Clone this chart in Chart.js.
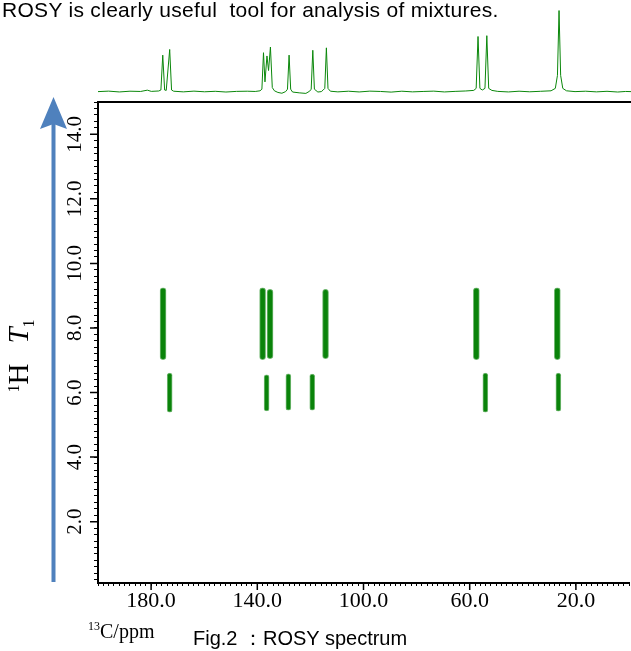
<!DOCTYPE html>
<html>
<head>
<meta charset="utf-8">
<script src="https://cdn.jsdelivr.net/npm/chart.js@4.4.1/dist/chart.umd.min.js"></script>
<style>
body { margin: 0; background: #fff; }
#wrap { position: relative; width: 631px; height: 651px; overflow: hidden; }
canvas { position: absolute; }
.txt { position: absolute; white-space: nowrap; color: #000; }
#note { left: 2px; top: 0; font: 21px/20px 'Liberation Sans', Arial, sans-serif; letter-spacing: 0.3px; }
#cap { left: 193px; top: 628px; font: 20px/20px 'Liberation Sans', Arial, sans-serif; }
#xtitle { left: 88px; top: 621px; font: 20px/20px 'Liberation Serif', 'Times New Roman', serif; }
#xtitle .sup { font-size: 12px; position: relative; top: -8px; }
#ytitle { left: 20px; top: 356px; transform: translate(-50%, -50%) rotate(-90deg);
          font: 29px/29px 'Liberation Serif', 'Times New Roman', serif; }
#ytitle .sup { font-size: 16px; position: relative; top: -9px; }
#ytitle .sub { font-size: 16px; position: relative; top: 6px; }
#ytitle .gap { display: inline-block; width: 20px; }
</style>
</head>
<body>
<div id="wrap">
  <canvas id="rosy" width="631" height="651" style="left:0;top:0"></canvas>
  <canvas id="spec" width="533" height="104" style="left:98px;top:0"></canvas>
  <svg width="631" height="651" style="position:absolute;left:0;top:0">
    <line x1="53.5" y1="582" x2="53.5" y2="122" stroke="#4f81bd" stroke-width="4"/>
    <polygon points="53.5,97 40,129 53.5,124 67,129" fill="#4f81bd"/>
  </svg>
  <div class="txt" id="note">ROSY is clearly useful&nbsp; tool for analysis of mixtures.</div>
  <div class="txt" id="ytitle"><span class="sup">1</span>H<span class="gap"></span><i>T</i><span class="sub">1</span></div>
  <div class="txt" id="xtitle"><span class="sup">13</span>C/ppm</div>
  <div class="txt" id="cap">Fig.2 ：ROSY spectrum</div>
</div>
<script>
// spots of the 2D map: 13C shift (ppm) and T1 range of each contour
const upperPpm  = [175.5, 138.0, 135.2, 114.3, 57.5, 27.0];
const upperLow  = [7.02, 7.02, 7.05, 7.05, 7.02, 7.02];
const upperHigh = [9.24, 9.24, 9.20, 9.20, 9.24, 9.24];
const lowerPpm  = [173.0, 136.5, 128.3, 119.3, 54.1, 26.6];
const lowerLow  = [5.39, 5.43, 5.45, 5.45, 5.39, 5.42];
const lowerHigh = [6.60, 6.55, 6.58, 6.57, 6.60, 6.60];

// 1D 13C projection on top (ppm, intensity)
const specPpm = [200, 196, 192, 188, 184, 181.5, 180, 177.2, 176.4, 175.7, 175.0, 174.4, 173.1, 172.4, 171.6,
  168, 164, 160, 156, 152, 148, 144, 141, 139.2, 138.5, 137.9, 137.35, 136.6, 136.0, 135.3, 134.6, 133.8,
  132.5, 131, 129.6, 128.9, 128.3, 127.7, 127, 124.5, 122, 120.6, 120, 119.4, 118.8, 117.5, 116.2, 115.5,
  114.9, 114.3, 113.7, 112.8, 110, 106, 102, 98, 94, 90, 86, 82, 78, 74, 70, 66, 62, 59, 58.1, 57.4, 56.7,
  55.8, 54.8, 54.1, 53.4, 52.2, 50, 46, 42, 38, 34, 30, 28.4, 27.6, 27.0, 26.4, 25.6, 24.2, 21, 17, 13, 9, 5, 2, 0];
const specInt = [0, 0.6, -0.4, 0.5, 0.2, 1.8, 0.3, 0.8, 2, 45, 2, 1.5, 52, 2, 0.5,
  -0.3, 0.6, -0.2, 0.4, -0.5, 0.3, 0.5, 0.2, 1, 3, 48, 12, 44, 26, 55, 5, 1,
  -1, -2, 0, 3, 45, 3, -0.5, -1.5, -2.2, 0.5, 3, 51, 3, -0.5, 0, 2,
  4, 54, 4, 0.5, -0.3, 0.5, -0.4, 0.6, 0.2, -0.6, 0.5, -0.3, 0.2, 0.6, -0.4, 0.3, 0.8, 1.5, 4, 68, 4,
  2, 4, 69, 4, 1.5, 0.3, -0.4, 0.5, -0.2, 0.4, 1, 4, 20, 100, 20, 4, 1, 0, 0.5, -0.3, 0.4, -0.5, 0.2, 0];

// labelled ticks
const xLabelValues = [180, 140, 100, 60, 20];
const yLabelValues = [2, 4, 6, 8, 10, 12, 14];

function isLabelTick(v, list) {
    return list.some(l => Math.abs(l - v) < 1e-6);
}

// longer marks on the labelled ticks
const majorTicks = {
    id: 'majorTicks',
    afterDraw(chart) {
        const ctx = chart.ctx;
        const x = chart.scales.x;
        const y = chart.scales.y;
        ctx.save();
        ctx.strokeStyle = '#000';
        ctx.lineWidth = 1.5;
        ctx.beginPath();
        x.ticks.forEach(t => {
            if (isLabelTick(t.value, xLabelValues)) {
                const px = x.getPixelForValue(t.value);
                ctx.moveTo(px, x.top);
                ctx.lineTo(px, x.top + 7);
            }
        });
        y.ticks.forEach(t => {
            if (isLabelTick(t.value, yLabelValues)) {
                const py = y.getPixelForValue(t.value);
                ctx.moveTo(y.right, py);
                ctx.lineTo(y.right - 8, py);
            }
        });
        ctx.stroke();
        ctx.restore();
    }
};

function spotData(ppm, low, high) {
    return ppm.map((p, i) => ({ x: p, y: [low[i], high[i]] }));
}

const spotStyle = {
    stack: 'spots',
    backgroundColor: '#0a830a',
    borderColor: 'rgba(0,128,0,0.55)',
    borderWidth: 1,
    borderRadius: 3,
    borderSkipped: false
};

Chart.defaults.font.family = 'Liberation Serif';

// 2D map
new Chart(document.getElementById('rosy'), {
    type: 'bar',
    data: {
        datasets: [
            Object.assign({ label: 'T1 8', data: spotData(upperPpm, upperLow, upperHigh), barThickness: 6 }, spotStyle),
            Object.assign({ label: 'T1 6', data: spotData(lowerPpm, lowerLow, lowerHigh), barThickness: 5 }, spotStyle)
        ]
    },
    options: {
        responsive: false,
        animation: false,
        devicePixelRatio: 1,
        layout: { padding: { top: 102, left: 0, right: 0, bottom: 0 } },
        plugins: { legend: { display: false }, tooltip: { enabled: false } },
        scales: {
            x: {
                type: 'linear',
                min: 0,
                max: 200,
                reverse: true,
                offset: false,
                grid: { display: true, offset: false, drawOnChartArea: false, drawTicks: true, tickLength: 3, tickColor: '#000', tickWidth: 1 },
                border: { display: true, color: '#000', width: 2 },
                ticks: {
                    stepSize: 2, autoSkip: false, minRotation: 0, maxRotation: 0, includeBounds: false,
                    padding: 2, color: '#000', font: { family: 'Liberation Serif', size: 22 },
                    callback: v => isLabelTick(v, xLabelValues) ? v.toFixed(1) : ''
                },
                afterFit: s => { s.height = 68; }
            },
            y: {
                type: 'linear',
                min: 0.1,
                max: 15.0,
                stacked: false,
                grid: { display: true, drawOnChartArea: false, drawTicks: true, tickLength: 4, tickColor: '#000', tickWidth: 1 },
                border: { display: true, color: '#000', width: 2 },
                ticks: {
                    stepSize: 0.2, autoSkip: false, minRotation: 90, maxRotation: 90, crossAlign: 'center',
                    includeBounds: false, padding: 0, color: '#000', font: { family: 'Liberation Serif', size: 21 },
                    callback: v => isLabelTick(v, yLabelValues) ? v.toFixed(1) : ''
                },
                afterFit: s => { s.width = 98; }
            }
        }
    },
    plugins: [majorTicks]
});

// projection on top
new Chart(document.getElementById('spec'), {
    type: 'line',
    data: {
        datasets: [{
            data: specPpm.map((p, i) => ({ x: p, y: specInt[i] })),
            borderColor: '#0a870a',
            borderWidth: 1,
            pointRadius: 0,
            tension: 0
        }]
    },
    options: {
        responsive: false,
        animation: false,
        devicePixelRatio: 1,
        layout: { padding: { top: 0, left: 0, right: 0, bottom: 2 } },
        plugins: { legend: { display: false }, tooltip: { enabled: false } },
        scales: {
            x: {
                type: 'linear', min: 0, max: 200, reverse: true,
                ticks: { display: false },
                grid: { display: false, drawTicks: false },
                border: { display: true, color: '#000', width: 2 }
            },
            y: { display: false, min: -12.8, max: 113 }
        }
    }
});
</script>
</body>
</html>
